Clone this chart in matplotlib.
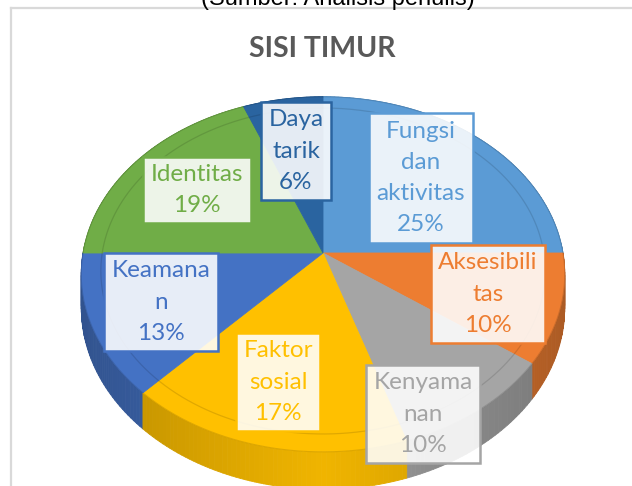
import numpy as np
import matplotlib.pyplot as plt
from matplotlib.collections import PolyCollection
from matplotlib.colors import to_rgb

# slice data (clockwise from 12 o'clock, as in the Excel chart)
categories = ["Fungsi dan aktivitas", "Aksesibilitas", "Kenyamanan", "Faktor sosial",
              "Keamanan", "Identitas", "Daya tarik"]
values = [25, 10, 10, 17, 13, 19, 6]
label_names = ["Fungsi\ndan\naktivitas", "Aksesibili\ntas", "Kenyama\nnan", "Faktor\nsosial",
               "Keamana\nn", "Identitas", "Daya\ntarik"]
colors = ["#5B9BD5", "#ED7D31", "#A5A5A5", "#FFC000", "#4472C4", "#70AD47", "#2A64A0"]

# label box centres (pixels, layout only)
label_pos = [(421, 178), (488, 294), (423, 414), (278, 382), (161, 302), (197, 190), (296, 151)]

W, H = 632, 486
cx, cy = 323, 253          # projected pie centre
A, B, D, a = 240, 175, 33, 0.12   # radii, depth, perspective


def project(u, v, z=0.0):
    # simple perspective: far side (v>0) smaller than near side
    k = 1.0 / (1.0 + a * v)
    return cx + A * u * k, cy - B * v * k - D * z * k


def shade(c, f):
    r, g, b = to_rgb(c)
    return (r * f, g * f, b * f)


fig = plt.figure(figsize=(6.32, 4.86), dpi=100)
ax = fig.add_axes([0, 0, 1, 1])
ax.set_xlim(0, W)
ax.set_ylim(H, 0)
ax.axis("off")

# chart area frame (left and top edges visible)
ax.plot([11, 11], [8, H], color="#D9D9D9", lw=1.6, zorder=0)
ax.plot([11, W], [8, 8], color="#D9D9D9", lw=1.6, zorder=0)

fracs = np.array(values, dtype=float) / np.sum(values)
edges = np.concatenate([[0], np.cumsum(fracs)]) * 2 * np.pi

# side walls, painted back to front
quads, qcols, depth = [], [], []
for i, col in enumerate(colors):
    th = np.linspace(edges[i], edges[i + 1], max(4, int(fracs[i] * 360)))
    for t0, t1 in zip(th[:-1], th[1:]):
        u0, v0, u1, v1 = np.sin(t0), np.cos(t0), np.sin(t1), np.cos(t1)
        pts = [project(u0, v0, 0), project(u1, v1, 0), project(u1, v1, -1), project(u0, v0, -1)]
        quads.append(pts)
        um = abs(np.sin((t0 + t1) / 2))
        qcols.append(shade(col, 0.94 - 0.22 * um))
        depth.append((v0 + v1) / 2)
order = np.argsort(depth)[::-1]
ax.add_collection(PolyCollection([quads[j] for j in order], facecolors=[qcols[j] for j in order],
                                 edgecolors=[qcols[j] for j in order], linewidths=0.6, zorder=1))

# top faces
for i, col in enumerate(colors):
    th = np.linspace(edges[i], edges[i + 1], max(4, int(fracs[i] * 360)))
    pts = [project(0, 0)] + [project(np.sin(t), np.cos(t)) for t in th]
    ax.fill(*zip(*pts), facecolor=col, edgecolor=col, lw=0.6, zorder=2)

# soft bevel ring
th = np.linspace(0, 2 * np.pi, 400)
ring = [project(0.92 * np.sin(t), 0.92 * np.cos(t)) for t in th]
ax.plot(*zip(*ring), color="black", alpha=0.12, lw=0.9, zorder=3)
rim = [project(np.sin(t), np.cos(t)) for t in th]
ax.plot(*zip(*rim), color="black", alpha=0.12, lw=0.8, zorder=3)

# data labels
for name, val, col, (lx, ly) in zip(label_names, values, colors, label_pos):
    ax.text(lx, ly, f"{name}\n{val}%", ha="center", va="center", fontsize=17.5,
            family="Lato", color=col, linespacing=1.6, zorder=5,
            bbox=dict(boxstyle="square,pad=0.3", fc=(1, 1, 1, 0.88), ec=col, lw=1.8))

ax.text(322, 49, "SISI TIMUR", ha="center", va="center", fontsize=20.5,
        fontweight="bold", family="Lato", color="#595959", zorder=5)

fig.text(338 / W, 1 - 5 / H, "(Sumber: Analisis penulis)", ha="center", va="baseline",
         fontsize=17, family="Liberation Sans", color="black")

fig.savefig("out.png", dpi=100)
